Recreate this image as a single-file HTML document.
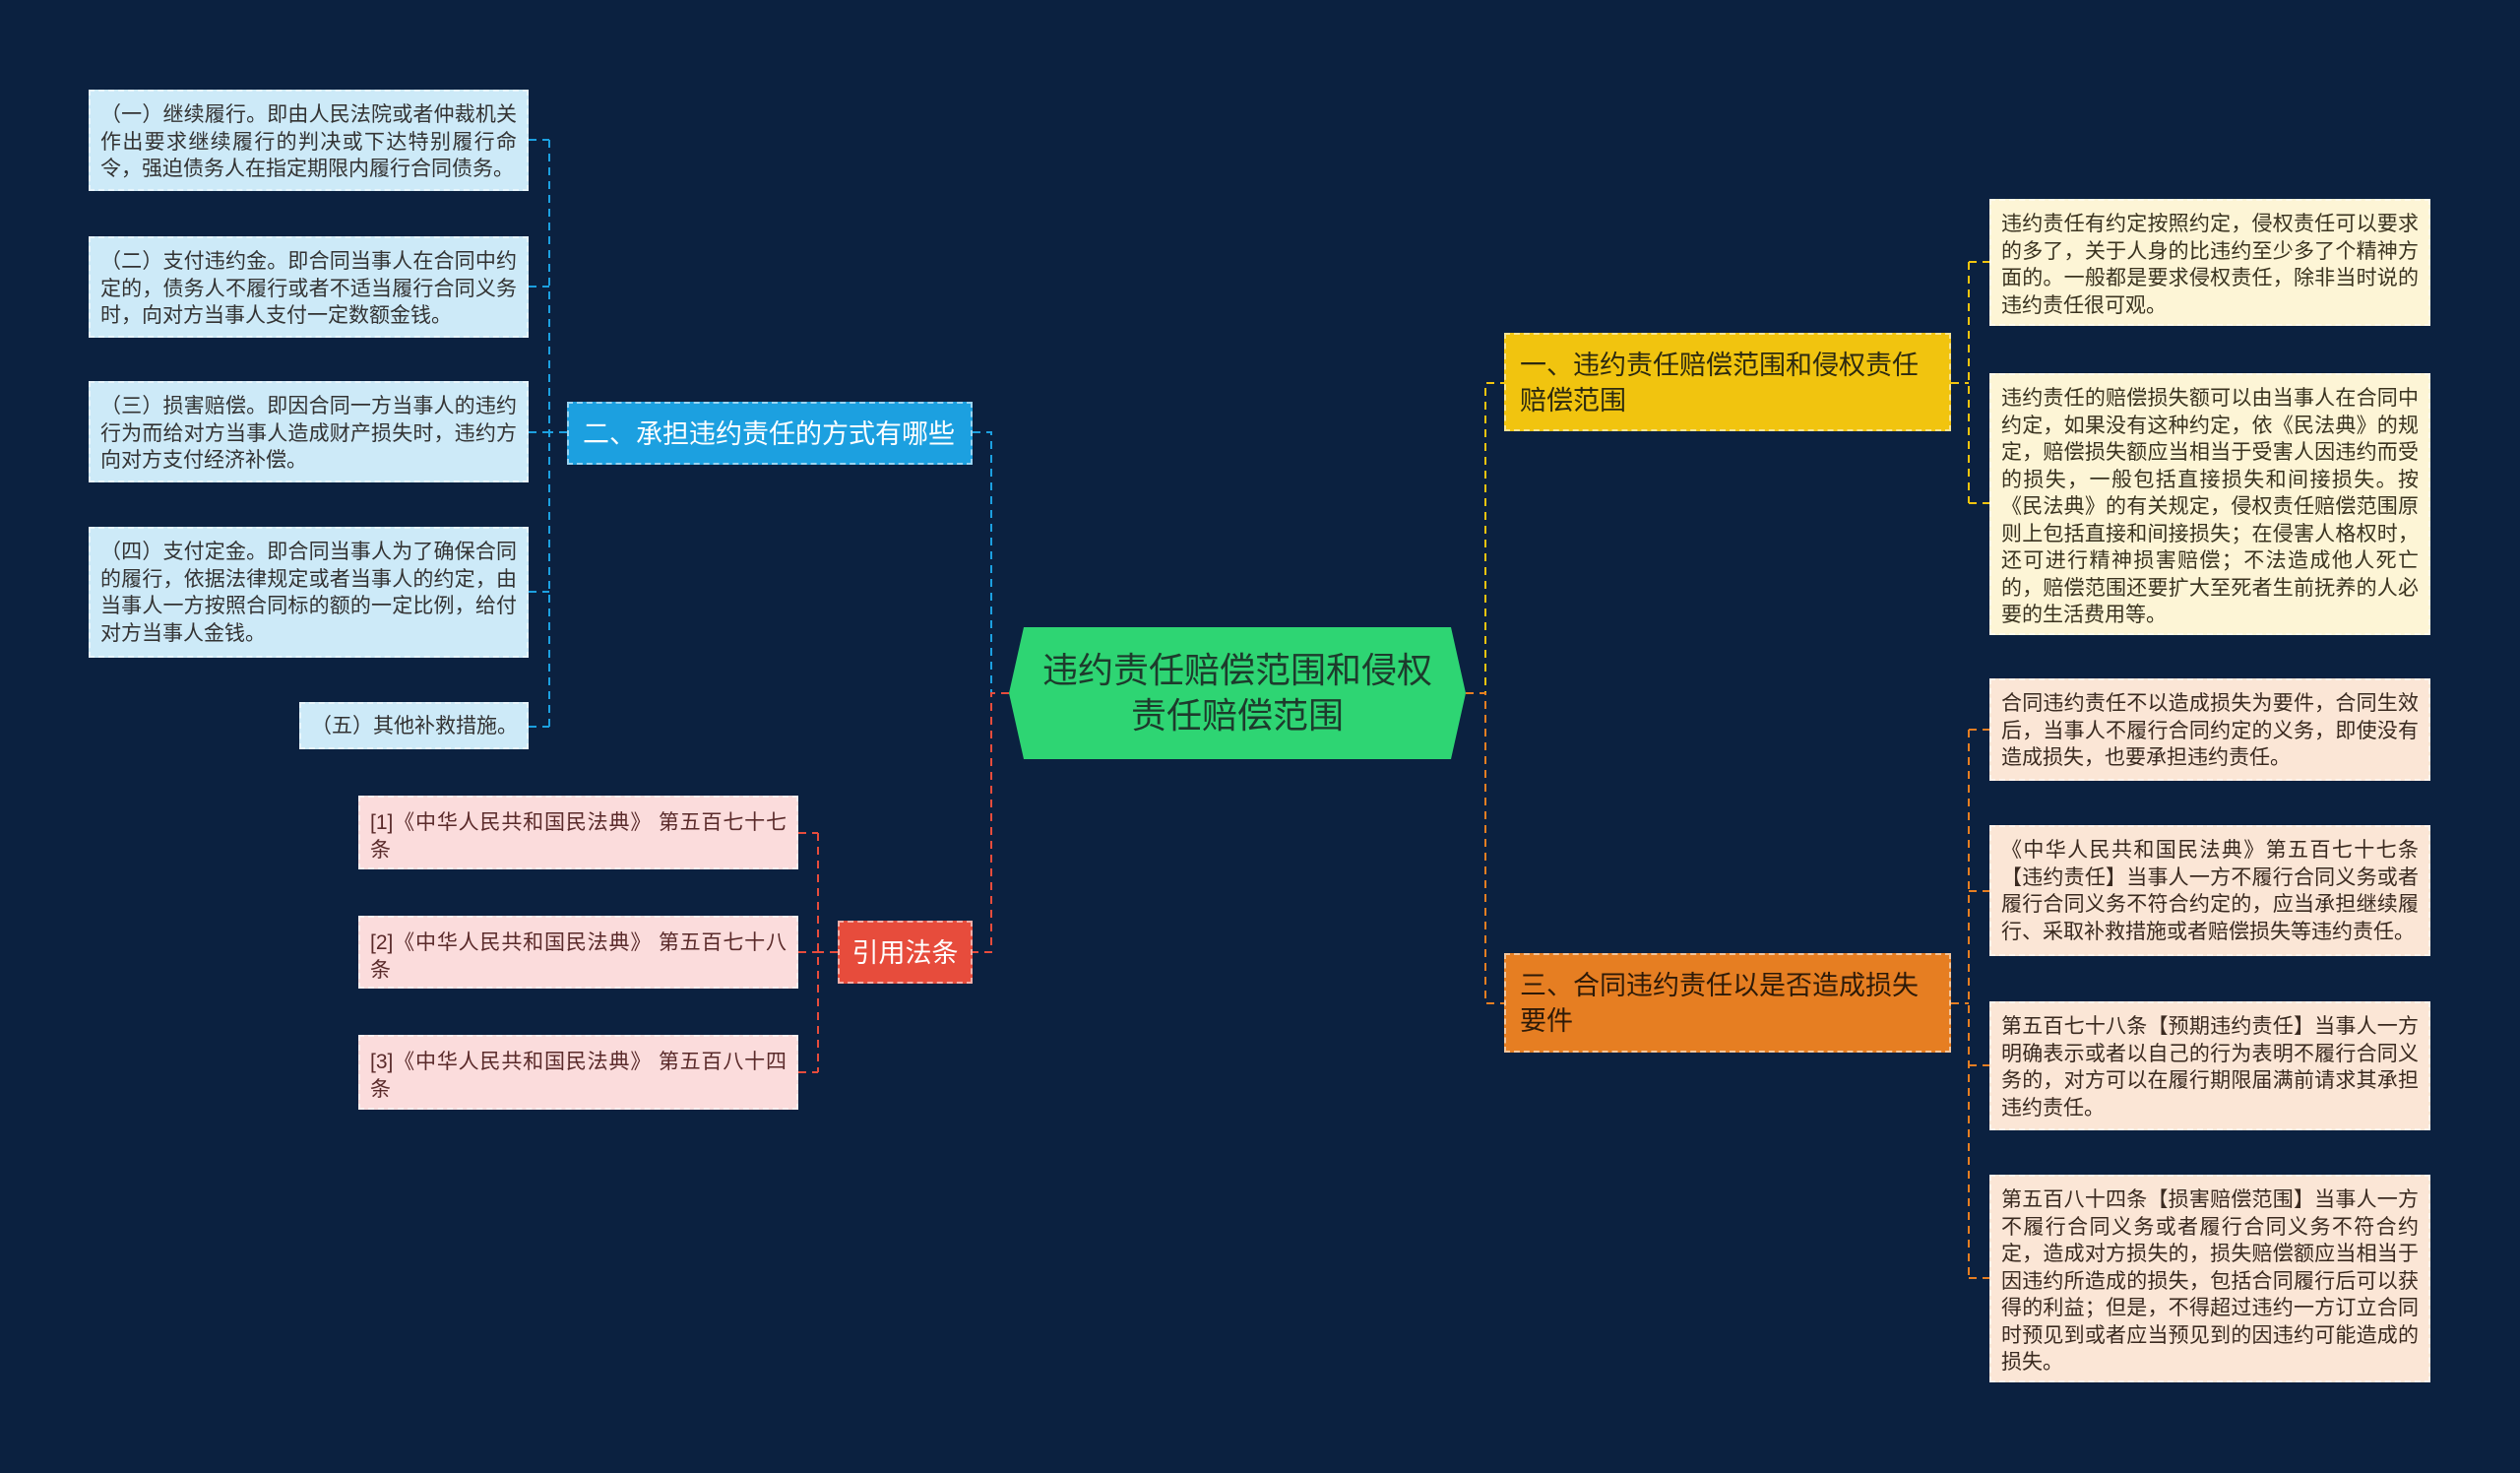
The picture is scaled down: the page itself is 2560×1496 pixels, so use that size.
<!DOCTYPE html>
<html><head><meta charset="utf-8"><style>
body{margin:0;width:2560px;height:1496px;background:#0b2140;overflow:hidden;position:relative;font-family:"Liberation Sans","Noto Sans CJK SC",sans-serif}
.n{position:absolute;box-sizing:border-box;border:2px dashed rgba(255,255,255,0.55)}
.leaf{font-size:21px;line-height:27.5px;padding:10px 10px;color:#333;text-align:justify;word-break:break-all}
.lb{background:#cdeaf8}
.pk{background:#fbdcdc;color:#5a2a2a;padding-top:12px}
.cr{background:#fdf5d6;color:#3a3320}
.pc{background:#fbe6d6;color:#3a2a20}
.br{font-size:27px;line-height:36px;padding:10px 14px}
svg{position:absolute;left:0;top:0}
</style></head><body>
<svg width="2560" height="1496" fill="none" stroke-width="2" stroke-dasharray="8,6">
<g stroke="#1ca0e0"><path d="M1025 704H1007V439H988"/><path d="M576 439H558M558 142V738M537 142H558M537 291H558M537 439H558M537 601H558M537 738H558"/></g>
<g stroke="#e74c3c"><path d="M1025 704H1007V967H988"/><path d="M851 967H831M831 846V1089M811 846H831M811 967H831M811 1089H831"/></g>
<g stroke="#f1c40f"><path d="M1489 704H1509V389H1528"/><path d="M1982 389H2000M2000 266V511M2000 266H2021M2000 511H2021"/></g>
<g stroke="#e67e22"><path d="M1489 704H1509V1019H1528"/><path d="M1982 1019H2000M2000 741V1298M2000 741H2021M2000 905H2021M2000 1082H2021M2000 1298H2021"/></g>
</svg>
<svg width="2560" height="1496"><polygon points="1040,637 1474,637 1489,704 1474,771 1040,771 1025,704" fill="#2ed573"/></svg>
<div style="position:absolute;left:1025px;top:637px;width:464px;height:134px;display:flex;align-items:center;justify-content:center;text-align:center;font-size:36px;line-height:46px;color:#1d3b2c">违约责任赔偿范围和侵权<br>责任赔偿范围</div>

<div class="n br" style="left:576px;top:408px;width:412px;height:64px;background:#1ca0e0;color:#fff;padding-top:13px;white-space:nowrap">二、承担违约责任的方式有哪些</div>
<div class="n leaf lb" style="left:90px;top:91px;width:447px;height:103px">（一）继续履行。即由人民法院或者仲裁机关作出要求继续履行的判决或下达特别履行命令，强迫债务人在指定期限内履行合同债务。</div>
<div class="n leaf lb" style="left:90px;top:240px;width:447px;height:103px">（二）支付违约金。即合同当事人在合同中约定的，债务人不履行或者不适当履行合同义务时，向对方当事人支付一定数额金钱。</div>
<div class="n leaf lb" style="left:90px;top:387px;width:447px;height:103px">（三）损害赔偿。即因合同一方当事人的违约行为而给对方当事人造成财产损失时，违约方向对方支付经济补偿。</div>
<div class="n leaf lb" style="left:90px;top:535px;width:447px;height:133px">（四）支付定金。即合同当事人为了确保合同的履行，依据法律规定或者当事人的约定，由当事人一方按照合同标的额的一定比例，给付对方当事人金钱。</div>
<div class="n leaf lb" style="left:304px;top:713px;width:233px;height:48px;padding-top:9px;white-space:nowrap">（五）其他补救措施。</div>

<div class="n br" style="left:851px;top:935px;width:137px;height:64px;background:#e74c3c;color:#fff;padding:13px 0 0 0;text-align:center;white-space:nowrap">引用法条</div>
<div class="n leaf pk" style="left:364px;top:808px;width:447px;height:75px">[1]《中华人民共和国民法典》 第五百七十七条</div>
<div class="n leaf pk" style="left:364px;top:930px;width:447px;height:74px">[2]《中华人民共和国民法典》 第五百七十八条</div>
<div class="n leaf pk" style="left:364px;top:1051px;width:447px;height:76px">[3]《中华人民共和国民法典》 第五百八十四条</div>

<div class="n br" style="left:1528px;top:338px;width:454px;height:100px;background:#f1c40f;color:#2d2a10;padding-top:13px">一、违约责任赔偿范围和侵权责任赔偿范围</div>
<div class="n br" style="left:1528px;top:968px;width:454px;height:101px;background:#e67e22;color:#2d1a08;padding-top:13px">三、合同违约责任以是否造成损失要件</div>

<div class="n leaf cr" style="left:2021px;top:202px;width:448px;height:129px">违约责任有约定按照约定，侵权责任可以要求的多了，关于人身的比违约至少多了个精神方面的。一般都是要求侵权责任，除非当时说的违约责任很可观。</div>
<div class="n leaf cr" style="left:2021px;top:379px;width:448px;height:266px">违约责任的赔偿损失额可以由当事人在合同中约定，如果没有这种约定，依《民法典》的规定，赔偿损失额应当相当于受害人因违约而受的损失，一般包括直接损失和间接损失。按《民法典》的有关规定，侵权责任赔偿范围原则上包括直接和间接损失；在侵害人格权时，还可进行精神损害赔偿；不法造成他人死亡的，赔偿范围还要扩大至死者生前抚养的人必要的生活费用等。</div>
<div class="n leaf pc" style="left:2021px;top:689px;width:448px;height:104px">合同违约责任不以造成损失为要件，合同生效后，当事人不履行合同约定的义务，即使没有造成损失，也要承担违约责任。</div>
<div class="n leaf pc" style="left:2021px;top:838px;width:448px;height:133px">《中华人民共和国民法典》第五百七十七条【违约责任】当事人一方不履行合同义务或者履行合同义务不符合约定的，应当承担继续履行、采取补救措施或者赔偿损失等违约责任。</div>
<div class="n leaf pc" style="left:2021px;top:1017px;width:448px;height:131px">第五百七十八条【预期违约责任】当事人一方明确表示或者以自己的行为表明不履行合同义务的，对方可以在履行期限届满前请求其承担违约责任。</div>
<div class="n leaf pc" style="left:2021px;top:1193px;width:448px;height:211px">第五百八十四条【损害赔偿范围】当事人一方不履行合同义务或者履行合同义务不符合约定，造成对方损失的，损失赔偿额应当相当于因违约所造成的损失，包括合同履行后可以获得的利益；但是，不得超过违约一方订立合同时预见到或者应当预见到的因违约可能造成的损失。</div>
</body></html>
